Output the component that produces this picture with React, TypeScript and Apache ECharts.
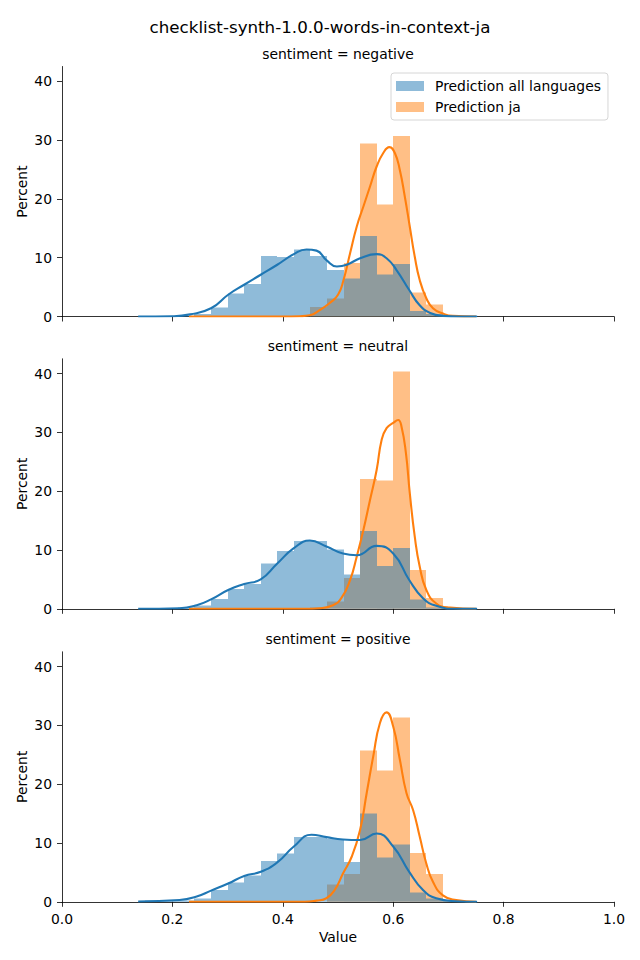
import React, { useEffect, useRef } from "react";
import * as echarts from "echarts";

const FONT = "DejaVu Sans";
const SUPTITLE = "checklist-synth-1.0.0-words-in-context-ja";
const PANEL_TITLES = ["sentiment = negative", "sentiment = neutral", "sentiment = positive"];
const SERIES_ALL = "Prediction all languages";
const SERIES_JA = "Prediction ja";

const BIN_EDGES = [0.15, 0.18, 0.21, 0.24, 0.27, 0.3, 0.33, 0.36, 0.39, 0.42, 0.45, 0.48, 0.51, 0.54, 0.57, 0.6, 0.63, 0.66, 0.69, 0.72, 0.75];
const X_TICKS = [0, 0.2, 0.4, 0.6, 0.8, 1.0];
const Y_TICKS = [0, 10, 20, 30, 40];

// histogram percents per bin
const negAll = [0.1, 0.05, 0.1, 0.4, 1.5, 3.9, 5.5, 10.3, 10.1, 11.4, 10.3, 7.9, 6.5, 13.7, 7.1, 8.9, 0.9, 0.4, 0.05, 0];
const negJa = [0, 0, 0, 0, 0, 0, 0, 0, 0, 0, 1.6, 3.1, 9.1, 29.4, 19.0, 30.7, 4.1, 2.0, 0.1, 0];
const neuAll = [0.05, 0.1, 0.2, 0.6, 1.7, 3.4, 4.2, 7.7, 9.85, 11.5, 11.5, 10.1, 5.8, 13.25, 7.3, 10.3, 1.6, 0.2, 0.05, 0];
const neuJa = [0, 0, 0, 0, 0, 0, 0, 0, 0, 0, 0.2, 1.2, 5.2, 22.1, 21.8, 40.3, 6.6, 1.8, 0.1, 0];
const posAll = [0.2, 0.2, 0.25, 0.6, 2.0, 3.3, 4.45, 6.95, 8.25, 11.0, 11.0, 10.7, 6.8, 15.0, 7.5, 9.7, 1.6, 0.6, 0.1, 0];
const posJa = [0, 0, 0, 0, 0, 0, 0, 0, 0, 0, 0, 2.9, 4.7, 25.7, 22.3, 31.3, 8.3, 4.7, 0.2, 0];

// KDE curves: [value, percent]
const negAllKde = [[0.138, 0], [0.2, 0.05], [0.232, 0.36], [0.27, 1.4], [0.301, 3.7], [0.33, 5.4], [0.36, 7.1], [0.39, 8.8], [0.42, 10.6], [0.443, 11.4], [0.461, 11.2], [0.48, 9.5], [0.498, 8.5], [0.516, 8.8], [0.54, 9.9], [0.57, 10.6], [0.588, 9.9], [0.606, 7.9], [0.629, 4.5], [0.648, 1.9], [0.667, 0.6], [0.69, 0.1], [0.72, 0], [0.752, 0]];
const negJaKde = [[0.23, 0], [0.4, 0], [0.431, 0.05], [0.449, 0.2], [0.467, 1.1], [0.485, 2.3], [0.5, 3.7], [0.51, 6.2], [0.522, 10.8], [0.534, 15.3], [0.546, 18.7], [0.558, 22.1], [0.57, 25.5], [0.582, 27.8], [0.593, 28.8], [0.603, 27.8], [0.612, 24.9], [0.621, 20.4], [0.63, 15.3], [0.639, 10.2], [0.648, 6.2], [0.66, 3.1], [0.672, 1.4], [0.69, 0.5], [0.708, 0.1], [0.75, 0]];
const neuAllKde = [[0.138, 0], [0.213, 0.1], [0.244, 0.6], [0.27, 1.6], [0.301, 3.2], [0.33, 4.2], [0.36, 5.0], [0.39, 7.7], [0.42, 10.3], [0.449, 11.6], [0.479, 10.6], [0.509, 9.4], [0.534, 9.1], [0.57, 10.7], [0.6, 9.4], [0.629, 4.9], [0.654, 1.8], [0.678, 0.5], [0.714, 0], [0.752, 0]];
const neuJaKde = [[0.23, 0], [0.44, 0], [0.467, 0.1], [0.491, 0.6], [0.506, 1.8], [0.522, 4.9], [0.534, 8.9], [0.546, 13.4], [0.558, 18.5], [0.57, 23.6], [0.579, 28.7], [0.588, 30.7], [0.6, 31.6], [0.609, 32.1], [0.615, 31.0], [0.623, 26.5], [0.63, 19.7], [0.639, 12.3], [0.648, 7.2], [0.66, 3.2], [0.678, 0.9], [0.703, 0.2], [0.75, 0]];
const posAllKde = [[0.138, 0.05], [0.213, 0.3], [0.244, 0.9], [0.27, 1.9], [0.301, 3.1], [0.33, 4.4], [0.36, 5.1], [0.39, 6.7], [0.42, 9.4], [0.452, 11.4], [0.479, 11.0], [0.509, 10.6], [0.54, 10.5], [0.57, 11.6], [0.6, 9.4], [0.629, 5.1], [0.654, 2.0], [0.678, 0.6], [0.714, 0.1], [0.752, 0]];
const posJaKde = [[0.23, 0], [0.44, 0], [0.461, 0.2], [0.479, 0.6], [0.494, 2.0], [0.509, 4.8], [0.525, 7.7], [0.54, 12.2], [0.552, 18.5], [0.564, 24.8], [0.576, 30.4], [0.588, 32.2], [0.6, 29.8], [0.612, 24.2], [0.624, 18.5], [0.636, 15.6], [0.648, 11.1], [0.66, 6.5], [0.672, 3.4], [0.69, 1.1], [0.714, 0.3], [0.75, 0]];

const HIST_ALL = [negAll, neuAll, posAll];
const HIST_JA = [negJa, neuJa, posJa];
const KDE_ALL = [negAllKde, neuAllKde, posAllKde];
const KDE_JA = [negJaKde, neuJaKde, posJaKde];

const BLUE = "#1f77b4";
const ORANGE = "#ff7f0e";
const BLUE_FILL = "rgba(31,119,180,0.5)";
const ORANGE_FILL = "rgba(255,127,14,0.5)";

const GRID_TOPS = [66.5, 358.8, 651.8];
const GRID_H = 250;
const GRID_LEFT = 62;
const GRID_W = 552;
const TITLE_Y = [54, 346, 639];

function histData(vals: number[]) {
  return vals.map((v, i) => [BIN_EDGES[i], BIN_EDGES[i + 1], v]);
}

function makeRender(fill: string) {
  return (params: any, api: any) => {
    const x0 = api.value(0);
    const x1 = api.value(1);
    const y = api.value(2);
    const p0 = api.coord([x0, 0]);
    const p1 = api.coord([x1, y]);
    const left = Math.round(p0[0]);
    const right = Math.round(p1[0]);
    const top = Math.round(p1[1] * 2) / 2;
    const bottom = p0[1];
    if (bottom - top <= 0) return null;
    return {
      type: "rect",
      shape: { x: left, y: top, width: right - left, height: bottom - top },
      style: { fill },
    };
  };
}

export default function App() {
  const ref = useRef<HTMLDivElement>(null);
  useEffect(() => {
    if (!ref.current) return;
    const chart = echarts.init(ref.current, undefined, { renderer: "svg" });
    const grids: any[] = [];
    const xAxes: any[] = [];
    const yAxes: any[] = [];
    const series: any[] = [];
    const graphics: any[] = [
      {
        type: "text",
        x: 320,
        y: 27,
        style: { text: SUPTITLE, fontSize: 16.7, fontFamily: FONT, fill: "#000", align: "center", verticalAlign: "middle" },
      },
    ];
    for (let i = 0; i < 3; i++) {
      grids.push({ left: GRID_LEFT, top: GRID_TOPS[i], width: GRID_W, height: GRID_H });
      const isLast = i === 2;
      xAxes.push({
        gridIndex: i,
        type: "value",
        min: 0,
        max: 1,
        interval: 0.2,
        axisLine: { show: true, onZero: false, lineStyle: { color: "#000", width: 0.8 } },
        axisTick: { show: true, length: 5, lineStyle: { color: "#000", width: 0.8 }, customValues: X_TICKS },
        axisLabel: {
          show: isLast,
          customValues: X_TICKS,
          formatter: (v: number) => v.toFixed(1),
          color: "#000",
          fontSize: 13.9,
          fontFamily: FONT,
          margin: 10,
          showMinLabel: true,
          showMaxLabel: true,
        },
        splitLine: { show: false },
        name: isLast ? "Value" : "",
        nameLocation: "middle",
        nameGap: 28,
        nameMoveOverlap: false,
        nameTextStyle: { color: "#000", fontSize: 13.9, fontFamily: FONT },
      });
      yAxes.push({
        gridIndex: i,
        type: "value",
        min: 0,
        max: 42.5,
        interval: 10,
        axisLine: { show: true, onZero: false, lineStyle: { color: "#000", width: 0.8 } },
        axisTick: { show: true, length: 5, lineStyle: { color: "#000", width: 0.8 }, customValues: Y_TICKS },
        axisLabel: { customValues: Y_TICKS, color: "#000", fontSize: 13.9, fontFamily: FONT, margin: 10 },
        splitLine: { show: false },
        name: "Percent",
        nameLocation: "middle",
        nameGap: 33,
        nameMoveOverlap: false,
        nameTextStyle: { color: "#000", fontSize: 13.9, fontFamily: FONT },
      });
      series.push({
        type: "custom",
        name: SERIES_JA,
        xAxisIndex: i,
        yAxisIndex: i,
        renderItem: makeRender(ORANGE_FILL),
        encode: { x: [0, 1], y: 2 },
        data: histData(HIST_JA[i]),
        itemStyle: { color: ORANGE_FILL },
        z: 1,
      });
      series.push({
        type: "custom",
        name: SERIES_ALL,
        xAxisIndex: i,
        yAxisIndex: i,
        renderItem: makeRender(BLUE_FILL),
        encode: { x: [0, 1], y: 2 },
        data: histData(HIST_ALL[i]),
        itemStyle: { color: BLUE_FILL },
        z: 2,
      });
      series.push({
        type: "line",
        name: "kde ja " + i,
        xAxisIndex: i,
        yAxisIndex: i,
        data: KDE_JA[i],
        smooth: 0.5,
        showSymbol: false,
        lineStyle: { color: ORANGE, width: 2.1 },
        itemStyle: { color: ORANGE },
        z: 3,
      });
      series.push({
        type: "line",
        name: "kde all " + i,
        xAxisIndex: i,
        yAxisIndex: i,
        data: KDE_ALL[i],
        smooth: 0.5,
        showSymbol: false,
        lineStyle: { color: BLUE, width: 2.1 },
        itemStyle: { color: BLUE },
        z: 4,
      });
      graphics.push({
        type: "text",
        x: GRID_LEFT + GRID_W / 2,
        y: TITLE_Y[i],
        style: { text: PANEL_TITLES[i], fontSize: 13.9, fontFamily: FONT, fill: "#000", align: "center", verticalAlign: "middle" },
      });
    }
    chart.setOption({
      animation: false,
      backgroundColor: "#fff",
      grid: grids,
      xAxis: xAxes,
      yAxis: yAxes,
      series,
      graphic: graphics,
      legend: {
        orient: "vertical",
        left: 391,
        top: 73,
        itemWidth: 28,
        itemHeight: 10,
        itemGap: 7,
        padding: [6, 7, 6, 5],
        backgroundColor: "rgba(255,255,255,0.8)",
        borderColor: "#d6d6d6",
        borderWidth: 1,
        borderRadius: 3,
        selectedMode: false,
        icon: "rect",
        textStyle: { fontSize: 13.9, fontFamily: FONT, color: "#000", lineHeight: 14, padding: [0, 0, 0, 6] },
        data: [
          { name: SERIES_ALL, itemStyle: { color: BLUE_FILL } },
          { name: SERIES_JA, itemStyle: { color: ORANGE_FILL } },
        ],
      },
    });
    return () => chart.dispose();
  }, []);
  return <div ref={ref} style={{ position: "fixed", left: 0, top: 0, width: 640, height: 960 }} />;
}
